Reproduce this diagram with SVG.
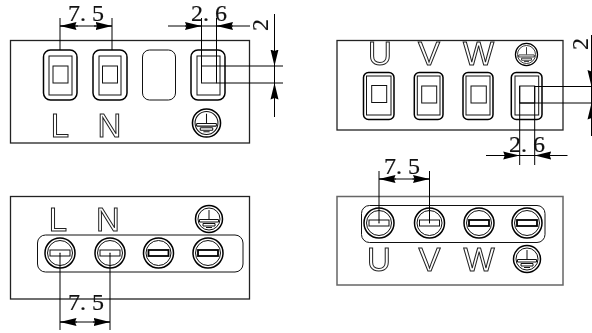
<svg xmlns="http://www.w3.org/2000/svg" width="592" height="333" viewBox="0 0 592 333">
<style>
.l{fill:none;stroke:#111;stroke-width:1}
.t{fill:none;stroke:#000;stroke-width:1.500}
.p{fill:none;stroke:#222;stroke-width:1.300}
.d{fill:none;stroke:#000;stroke-width:1}
.a{fill:none;stroke:#000;stroke-width:1;marker-end:url(#ah)}
.n{font-family:"Liberation Serif",serif;font-size:24px;fill:#111;stroke:#111;stroke-width:.2;filter:url(#g)}
.o{font-family:"Liberation Sans",sans-serif;font-size:33px;fill:#fff;stroke:#222;stroke-width:1;text-anchor:middle;filter:url(#g)}
</style>
<defs>
<filter id="g" x="-20%" y="-20%" width="140%" height="140%"><feColorMatrix type="saturate" values="0"/></filter>
<marker id="ah" markerUnits="userSpaceOnUse" markerWidth="17" markerHeight="10" refX="16.500" refY="5" orient="auto"><path d="M0 1L16.500 5L0 9L1.500 5Z" fill="#000"/></marker>
<g id="earth">
<circle r="13.500" class="t"/><circle r="11" class="l"/>
<path d="M0-9V0M-9.500 0.500H9.500M-9.500 3H9.500M-9.500 0.500V3M9.500 0.500V3M-6 4.500H6M-6 7H6M-6 4.500V7M6 4.500V7M-3 8.500H3" class="l"/>
</g>
<g id="screw">
<circle r="15" class="t"/><circle r="12.500" class="l"/>
<rect x="-10" y="-3" width="20" height="6" class="l"/>
<circle r=".5" fill="#000"/>
</g>
<g id="screw-b">
<circle r="15" class="t"/><circle r="12.500" class="l"/>
<rect x="-10" y="-3" width="20" height="6" fill="none" stroke="#000" stroke-width="1.800"/>
</g>
</defs>
<rect width="592" height="333" fill="#fff"/>

<g id="panel-top-left">
<rect x="10.500" y="40.500" width="239" height="102.500" class="p"/>
<g id="term-L"><rect x="43.500" y="50" width="33.500" height="50" rx="7" class="t"/><rect x="49" y="56" width="23" height="39" class="l"/><rect x="53" y="66" width="15" height="17" class="l"/></g>
<g id="term-N"><rect x="93" y="50" width="34" height="50" rx="7" class="t"/><rect x="99" y="56" width="22" height="39" class="l"/><rect x="102.500" y="66" width="15" height="17" class="l"/></g>
<g id="term-blank"><rect x="142.500" y="50" width="33" height="50" rx="7" class="l"/></g>
<g id="term-PE"><rect x="191" y="50" width="34" height="50" rx="7" class="t"/><rect x="197" y="56" width="23" height="39" class="l"/><rect x="201.500" y="66" width="15" height="17" class="l"/></g>
<text class="o" x="60" y="137">L</text>
<text class="o" x="109.500" y="137">N</text>
<use href="#earth" transform="translate(206.500 123) scale(1.040)"/>
</g>

<g id="panel-top-right">
<rect x="337" y="40.500" width="226" height="89.500" class="p"/>
<text class="o" x="380" y="64.500">U</text>
<text class="o" x="429" y="64.500">V</text>
<text class="o" x="478.500" y="64.500">W</text>
<use href="#earth" transform="translate(526.500 54.500) scale(.82)"/>
<g id="term-U"><rect x="363.500" y="72.500" width="30.500" height="47" rx="5" class="t"/><rect x="366.500" y="76" width="24.500" height="39" class="l"/><rect x="371.700" y="85.500" width="15" height="17" class="l"/></g>
<g id="term-V"><rect x="414.300" y="72.500" width="28.700" height="47" rx="5" class="t"/><rect x="417.300" y="76" width="22.700" height="39" class="l"/><rect x="421.700" y="86" width="15" height="17" class="l"/></g>
<g id="term-W"><rect x="463" y="72.500" width="30" height="47" rx="5" class="t"/><rect x="466" y="76" width="24" height="39" class="l"/><rect x="471" y="86" width="15.300" height="17" class="l"/></g>
<g id="term-PE2"><rect x="511.300" y="72.500" width="30.700" height="47" rx="5" class="t"/><rect x="515" y="76" width="23.700" height="39" class="l"/><rect x="519.700" y="86" width="15" height="17" class="l"/></g>
</g>

<g id="panel-bottom-left">
<rect x="10.500" y="196.500" width="239" height="102.500" class="p"/>
<text class="o" x="58" y="231">L</text>
<text class="o" x="108" y="231">N</text>
<use href="#earth" x="209" y="219"/>
<rect x="37.500" y="235" width="205.500" height="37" rx="8" class="l"/>
<use href="#screw" x="60" y="253"/>
<use href="#screw" x="110" y="253"/>
<use href="#screw-b" x="158.500" y="253"/>
<use href="#screw-b" x="208" y="253"/>
</g>

<g id="panel-bottom-right">
<rect x="337" y="196.500" width="226" height="88.500" class="p" style="stroke:#666;stroke-width:1.500"/>
<rect x="361.500" y="205.500" width="183.500" height="37" rx="8" class="l"/>
<use href="#screw" x="379" y="223"/>
<use href="#screw" x="429.500" y="223"/>
<use href="#screw-b" x="479" y="223"/>
<use href="#screw-b" x="527" y="223"/>
<text class="o" x="379" y="271">U</text>
<text class="o" x="429.500" y="271">V</text>
<text class="o" x="479" y="271">W</text>
<use href="#earth" x="527" y="259"/>
</g>

<g id="connectors">
<path class="d" d="M60 18V50M112 18V50M60 26H112"/>
<path class="a" d="M78 26H60"/><path class="a" d="M94 26H112"/>
<path class="d" d="M201.500 18V81M216.500 18V81M168 26H250"/>
<path class="a" d="M185 26H201.500"/><path class="a" d="M233 26H216.500"/>
<path class="d" d="M216.500 66H283M216.500 83H283M274.500 14V117"/>
<path class="a" d="M274.500 49V66"/><path class="a" d="M274.500 100V83"/>
<path class="d" d="M519.700 86V165M534.700 86V165M486 155.500H567.500M534.700 86.500H592M519.700 103H592"/>
<path class="a" d="M503 155.500H519.700"/><path class="a" d="M551 155.500H534.700"/>
<path class="d" d="M591.500 35V136"/>
<path class="a" d="M591.500 70V86.500"/><path class="a" d="M591.500 120V103"/>
<path class="d" d="M60 253V330M110 253V330M60 322H110"/>
<path class="a" d="M77 322H60"/><path class="a" d="M93 322H110"/>
<path class="d" d="M379 171V223M429.500 171V223M379 179H429.500"/>
<path class="a" d="M396 179H379"/><path class="a" d="M412.500 179H429.500"/>
</g>

<g id="dimension-labels">
<text class="n" x="68" y="21">7. 5</text>
<text class="n" x="191" y="21">2. 6</text>
<text class="n" transform="translate(268 31) rotate(-90)">2</text>
<text class="n" x="509" y="152">2. 6</text>
<text class="n" transform="translate(588 50) rotate(-90)">2</text>
<text class="n" x="68" y="310">7. 5</text>
<text class="n" x="384" y="174">7. 5</text>
</g>
</svg>
